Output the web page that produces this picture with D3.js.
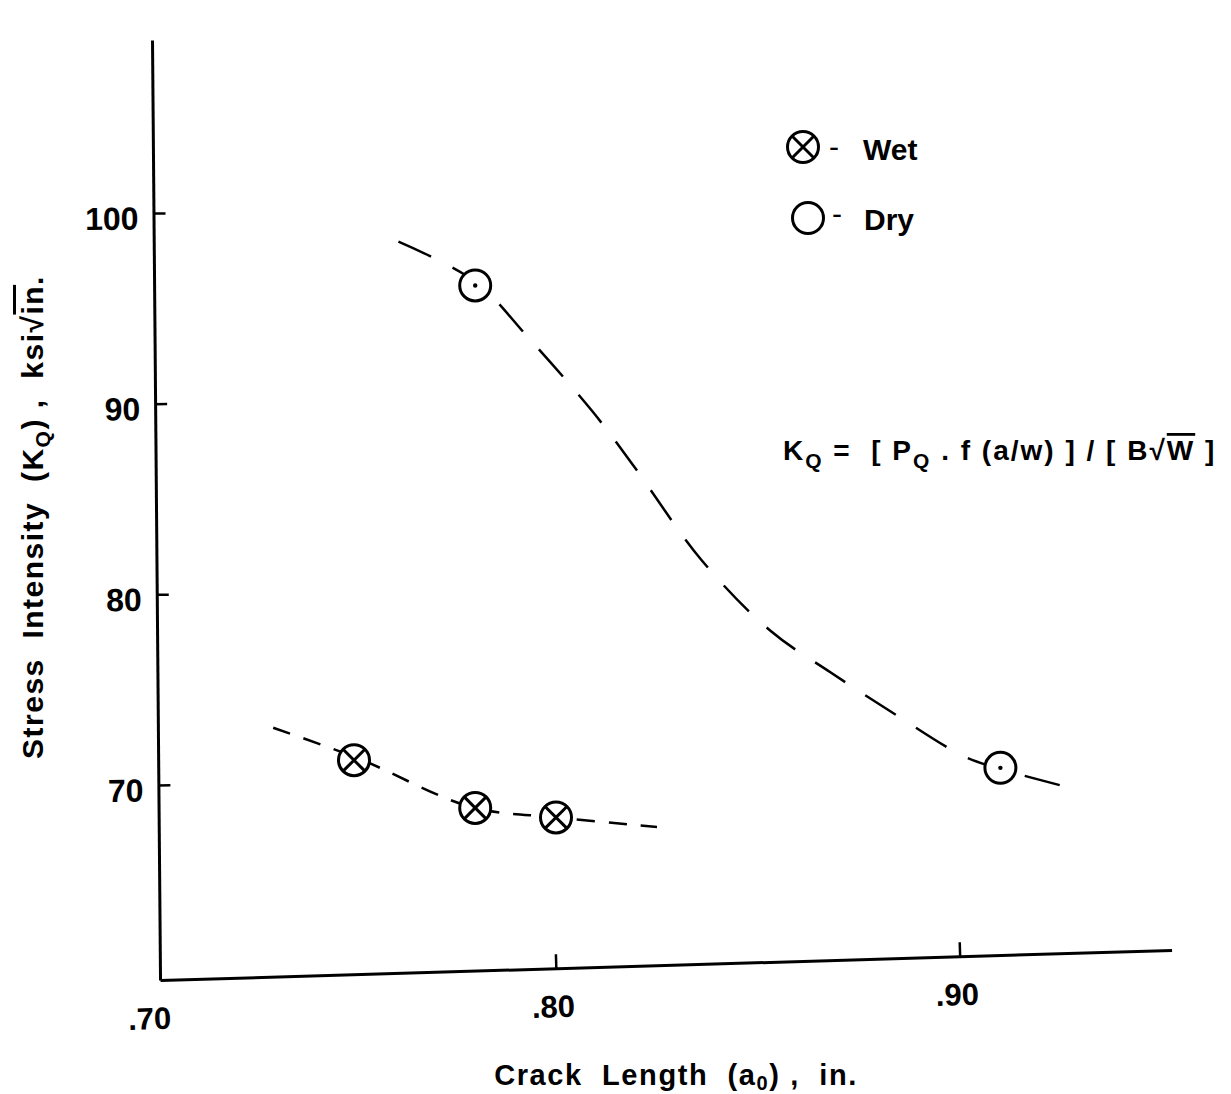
<!DOCTYPE html>
<html>
<head>
<meta charset="utf-8">
<script src="https://cdn.jsdelivr.net/npm/d3@7"></script>
<style>
  body { margin: 0; background: #fff; }
  text { font-family: "Liberation Sans", Arial, sans-serif; font-weight: bold; fill: #000; }
</style>
</head>
<body>
<div id="chart"></div>
<script>
// Axis ticks
const xTicks = [0.70, 0.80, 0.90];
const xTickLabels = [".70", ".80", ".90"];
const yTicks = [70, 80, 90, 100];

// Measured points
const dryX = [0.78, 0.91];
const dryY = [96.2, 70.9];
const wetX = [0.75, 0.78, 0.80];
const wetY = [71.3, 68.8, 68.3];

// Hand drawn trend curves
const dryCurveX = [0.761, 0.780, 0.793, 0.809, 0.819, 0.836, 0.853, 0.868, 0.884, 0.901, 0.909, 0.930];
const dryCurveY = [98.5, 96.4, 93.5, 89.6, 86.8, 81.8, 78.1, 75.9, 73.7, 71.5, 70.9, 69.7];
const wetCurveX = [0.730, 0.751, 0.779, 0.800, 0.825];
const wetCurveY = [73.0, 71.4, 68.85, 68.3, 67.8];

const W = 1231, H = 1094;

const svg = d3.select("#chart")
    .append("svg")
    .attr("width", W)
    .attr("height", H);

// scales in page pixels
const x = d3.scaleLinear().domain([0.70, 0.90]).range([152, 960]);
const y = d3.scaleLinear().domain([70, 100]).range([785, 213]);

// Y axis (slightly tilted like the scan)
const yAxisScale = y.copy().domain([y.invert(980), y.invert(40)]).range([980, 40]);
const gy = svg.append("g")
    .attr("transform", "rotate(-0.49,152,40) translate(152,0)")
    .call(d3.axisLeft(yAxisScale).tickValues(yTicks).tickSize(-12).tickSizeOuter(0).tickPadding(15));
gy.select(".domain").attr("stroke-width", 3);
gy.selectAll(".tick line").attr("stroke-width", 2.5);
gy.selectAll(".tick text")
    .attr("dy", "0.5em")
    .style("font-size", "32px")
    .style("font-family", "Liberation Sans, Arial, sans-serif")
    .style("font-weight", "bold");

// X axis
const xAxisScale = x.copy().domain([x.invert(160), x.invert(1172)]).range([160, 1172]);
const gx = svg.append("g")
    .attr("transform", "rotate(-1.7,160,980) translate(0,980)")
    .call(d3.axisBottom(xAxisScale)
        .tickValues(xTicks)
        .tickFormat((d, i) => xTickLabels[i])
        .tickSize(-14).tickSizeOuter(0).tickPadding(27));
gx.select(".domain").attr("stroke-width", 3);
gx.selectAll(".tick line").attr("stroke-width", 2.5);
gx.selectAll(".tick line").filter(d => d === 0.70).remove();
gx.selectAll(".tick text")
    .attr("dx", "-4")
    .style("font-size", "31px")
    .style("font-family", "Liberation Sans, Arial, sans-serif")
    .style("font-weight", "bold");

// Curves
const line = d3.line()
    .x(d => x(d[0]))
    .y(d => y(d[1]))
    .curve(d3.curveCatmullRom);

svg.append("path")
    .datum(d3.zip(dryCurveX, dryCurveY))
    .attr("d", line)
    .attr("fill", "none")
    .attr("stroke", "#000")
    .attr("stroke-width", 2.5)
    .attr("stroke-dasharray", "36,24");

svg.append("path")
    .datum(d3.zip(wetCurveX, wetCurveY))
    .attr("d", line)
    .attr("fill", "none")
    .attr("stroke", "#000")
    .attr("stroke-width", 2.5)
    .attr("stroke-dasharray", "18,14");

// Markers
const R = 15.5;
function dryMarker(g, dot) {
    g.append("circle").attr("r", R).attr("fill", "#fff").attr("stroke", "#000").attr("stroke-width", 3);
    if (dot) g.append("circle").attr("r", 2.2).attr("fill", "#000");
}
function wetMarker(g) {
    g.append("circle").attr("r", R).attr("fill", "#fff").attr("stroke", "#000").attr("stroke-width", 3);
    const k = R * Math.SQRT1_2;
    g.append("line").attr("x1", -k).attr("y1", -k).attr("x2", k).attr("y2", k).attr("stroke", "#000").attr("stroke-width", 3);
    g.append("line").attr("x1", -k).attr("y1", k).attr("x2", k).attr("y2", -k).attr("stroke", "#000").attr("stroke-width", 3);
}

svg.selectAll(".dry")
    .data(d3.zip(dryX, dryY))
    .enter().append("g")
    .attr("class", "dry")
    .attr("transform", d => `translate(${x(d[0])},${y(d[1])})`)
    .each(function () { dryMarker(d3.select(this), true); });

svg.selectAll(".wet")
    .data(d3.zip(wetX, wetY))
    .enter().append("g")
    .attr("class", "wet")
    .attr("transform", d => `translate(${x(d[0])},${y(d[1])})`)
    .each(function () { wetMarker(d3.select(this)); });

// Legend
wetMarker(svg.append("g").attr("transform", "translate(803,147)"));
dryMarker(svg.append("g").attr("transform", "translate(808,218)"), false);
svg.append("text").attr("x", 829).attr("y", 157).style("font-size", "30px").style("font-weight", "normal").text("-");
svg.append("text").attr("x", 863).attr("y", 160).style("font-size", "30px").text("Wet");
svg.append("text").attr("x", 832).attr("y", 224).style("font-size", "30px").style("font-weight", "normal").text("-");
svg.append("text").attr("x", 864).attr("y", 230).style("font-size", "30px").text("Dry");

// Formula
const f = svg.append("text")
    .attr("x", 783).attr("y", 460)
    .style("font-size", "28px")
    .style("letter-spacing", "2px")
    .attr("xml:space", "preserve");
f.append("tspan").text("K");
f.append("tspan").attr("dy", 8).style("font-size", "21px").text("Q");
f.append("tspan").attr("dy", -8).text(" =  [ P");
f.append("tspan").attr("dy", 8).style("font-size", "21px").text("Q");
f.append("tspan").attr("dy", -8).text(" . f (a/w) ] / [ B");
f.append("tspan").text("\u221A");
f.append("tspan").style("text-decoration", "overline").text("W");
f.append("tspan").text(" ]");

// Y title
const yt = svg.append("text")
    .attr("transform", "translate(43,517) rotate(-90)")
    .attr("text-anchor", "middle")
    .style("font-size", "30px")
    .style("letter-spacing", "1.5px")
    .attr("xml:space", "preserve");
yt.append("tspan").text("Stress  Intensity  (K");
yt.append("tspan").attr("dy", 7).style("font-size", "21px").text("Q");
yt.append("tspan").attr("dy", -7).text(") ,  ksi");
yt.append("tspan").text("\u221A");
yt.append("tspan").style("text-decoration", "overline").text("in");
yt.append("tspan").text(".");

// X title
const xt = svg.append("text")
    .attr("x", 676).attr("y", 1085)
    .attr("text-anchor", "middle")
    .style("font-size", "29px")
    .style("letter-spacing", "1.6px")
    .attr("xml:space", "preserve");
xt.append("tspan").text("Crack  Length  (a");
xt.append("tspan").attr("dy", 5).style("font-size", "20px").text("0");
xt.append("tspan").attr("dy", -5).text(") ,  in.");
</script>
</body>
</html>
